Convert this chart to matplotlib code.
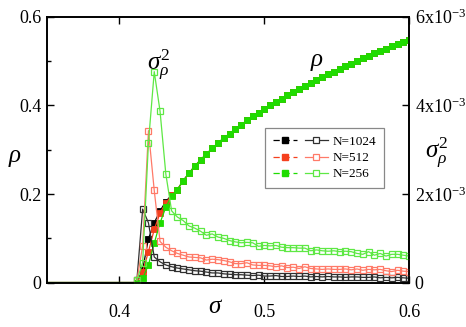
import matplotlib
matplotlib.use("Agg")
import matplotlib.pyplot as plt
from matplotlib.lines import Line2D
from matplotlib.legend_handler import HandlerTuple
from matplotlib.ticker import MultipleLocator

plt.rcParams['font.family'] = ['Liberation Serif', 'DejaVu Serif']
plt.rcParams['mathtext.fontset'] = 'custom'
plt.rcParams['mathtext.rm'] = 'Liberation Serif'
plt.rcParams['mathtext.it'] = 'Liberation Serif:italic'

# flat part below the transition (rho = 0)
sigma_low = [0.35, 0.412]
zero_low = [0.0, 0.0]

sigma = [0.412, 0.416, 0.420, 0.424, 0.428, 0.432, 0.436, 0.440, 0.444, 0.448,
         0.452, 0.456, 0.460, 0.464, 0.468, 0.472, 0.476, 0.480, 0.484, 0.488,
         0.492, 0.496, 0.500, 0.504, 0.508, 0.512, 0.516, 0.520, 0.524, 0.528,
         0.532, 0.536, 0.540, 0.544, 0.548, 0.552, 0.556, 0.560, 0.564, 0.568,
         0.572, 0.576, 0.580, 0.584, 0.588, 0.592, 0.596, 0.600]

# rho, shared part above sigma = 0.44
rho_tail = [0.210, 0.230, 0.247, 0.263, 0.277, 0.290, 0.303, 0.315, 0.326, 0.336,
            0.347, 0.356, 0.366, 0.375, 0.383, 0.392, 0.400, 0.408, 0.415, 0.423,
            0.430, 0.437, 0.444, 0.451, 0.457, 0.464, 0.470, 0.476, 0.482, 0.488,
            0.494, 0.500, 0.506, 0.511, 0.517, 0.522, 0.527, 0.533, 0.538, 0.543,
            0.548]
rho_1024 = [0.0, 0.030, 0.099, 0.135, 0.162, 0.183, 0.198] + rho_tail
rho_512 = [0.0, 0.025, 0.070, 0.120, 0.157, 0.180, 0.197] + rho_tail
rho_256 = [0.0, 0.010, 0.040, 0.089, 0.135, 0.170, 0.196] + rho_tail

# variance of rho, in units of 1e-3
var_1024 = [0.05, 1.66, 1.35, 0.58, 0.47, 0.40, 0.36, 0.33, 0.31, 0.29,
            0.27, 0.26, 0.24, 0.22, 0.22, 0.20, 0.19, 0.18, 0.18, 0.17,
            0.16, 0.17, 0.15, 0.15, 0.16, 0.14, 0.14, 0.15, 0.14, 0.15,
            0.13, 0.14, 0.13, 0.14, 0.13, 0.13, 0.12, 0.13, 0.13, 0.12,
            0.12, 0.13, 0.11, 0.12, 0.11, 0.12, 0.11, 0.10]
var_512 = [0.05, 0.83, 3.43, 2.08, 0.93, 0.80, 0.72, 0.66, 0.62, 0.58,
           0.57, 0.56, 0.51, 0.53, 0.52, 0.50, 0.47, 0.43, 0.43, 0.45,
           0.40, 0.39, 0.39, 0.38, 0.36, 0.38, 0.34, 0.35, 0.32, 0.36,
           0.32, 0.31, 0.30, 0.31, 0.30, 0.30, 0.31, 0.29, 0.31, 0.28,
           0.30, 0.29, 0.30, 0.27, 0.25, 0.28, 0.26, 0.25]
var_256 = [0.05, 0.45, 3.16, 4.76, 3.87, 2.45, 1.62, 1.48, 1.40, 1.28,
           1.23, 1.16, 1.07, 1.10, 1.03, 1.00, 0.95, 0.92, 0.90, 0.91,
           0.90, 0.82, 0.84, 0.83, 0.84, 0.80, 0.79, 0.79, 0.78, 0.78,
           0.72, 0.74, 0.72, 0.71, 0.72, 0.70, 0.71, 0.70, 0.66, 0.64,
           0.70, 0.62, 0.66, 0.60, 0.64, 0.64, 0.62, 0.60]

labels = ["N=1024", "N=512", "N=256"]
c_fill = ["#000000", "#f5401e", "#1fdc00"]
c_open = ["#303030", "#ff7a68", "#5ee844"]

fig = plt.figure(figsize=(4.66, 3.27), dpi=100)
ax = fig.add_axes([0.101, 0.1355, 0.777, 0.8135])
ax2 = ax.twinx()

handles = []
for rho, var, cf, co, lab in zip([rho_1024, rho_512, rho_256],
                                 [var_1024, var_512, var_256],
                                 c_fill, c_open, labels):
    ax.plot(sigma_low, zero_low, color=cf, lw=1.6, zorder=2)
    ax.plot(sigma, rho, color=cf, lw=0.9, marker='s', ms=4.2, mfc=cf, mec=cf,
            mew=0.6, zorder=3)
    ax2.plot(sigma, var, color=co, lw=0.9, marker='s', ms=4.6, mfc='none',
             mec=co, mew=0.9)
    h1 = Line2D([], [], color=cf, lw=0.9, ls=(0, (5, 3)), marker='s', ms=4.5,
                mfc=cf, mec=cf)
    h2 = Line2D([], [], color=co, lw=0.9, marker='s', ms=4.5, mfc='white',
                mec=co, mew=0.9)
    handles.append((h1, h2))

ax.set_xlim(0.35, 0.6)
ax.set_ylim(0, 0.6)
ax2.set_ylim(0, 6)

ax.set_xticks([0.4, 0.5, 0.6])
ax.set_xticklabels(["0.4", "0.5", "0.6"])
ax.set_yticks([0, 0.2, 0.4, 0.6])
ax.set_yticklabels(["0", "0.2", "0.4", "0.6"])
ax.yaxis.set_minor_locator(MultipleLocator(0.1))
ax2.set_yticks([0, 2, 4, 6])
ax2.set_yticklabels(["0", r"2x10$^{-3}$", r"4x10$^{-3}$", r"6x10$^{-3}$"])

ax.tick_params(axis='x', which='major', direction='in', top=True, length=5,
               width=1, labelsize=13, pad=15)
ax.tick_params(axis='y', which='major', direction='in', length=5, width=1,
               labelsize=13, pad=4)
ax.tick_params(axis='y', which='minor', direction='in', length=3, width=1)
ax2.tick_params(axis='y', direction='in', length=5, width=1, labelsize=13, pad=4)

for a in (ax, ax2):
    for s in a.spines.values():
        s.set_linewidth(1.2)

ax.set_xlabel(r"$\sigma$", fontsize=18, va='center')
ax.xaxis.set_label_coords(0.465, -0.09)
ax.set_ylabel(r"$\rho$", fontsize=18, rotation=0, va='center', ha='center')
ax.yaxis.set_label_coords(-0.09, 0.47)
ax2.set_ylabel(r"$\sigma^2_\rho$", fontsize=18, rotation=0, va='center', ha='center')
ax2.yaxis.set_label_coords(1.075, 0.49)

ax.text(0.309, 0.82, r"$\sigma^2_\rho$", transform=ax.transAxes, fontsize=18,
        ha='center', va='center')
ax.text(0.745, 0.83, r"$\rho$", transform=ax.transAxes, fontsize=18,
        ha='center', va='center')

leg = ax2.legend(handles, labels, handler_map={tuple: HandlerTuple(ndivide=None, pad=0.6)},
                 loc='upper left', bbox_to_anchor=(0.602, 0.582), borderaxespad=0,
                 fontsize=9.5, handlelength=4.2, handletextpad=0.3,
                 labelspacing=0.3, borderpad=0.6, fancybox=False, framealpha=1)
leg.get_frame().set_edgecolor('#888888')
leg.get_frame().set_linewidth(0.9)

fig.savefig("out.png", dpi=100)
